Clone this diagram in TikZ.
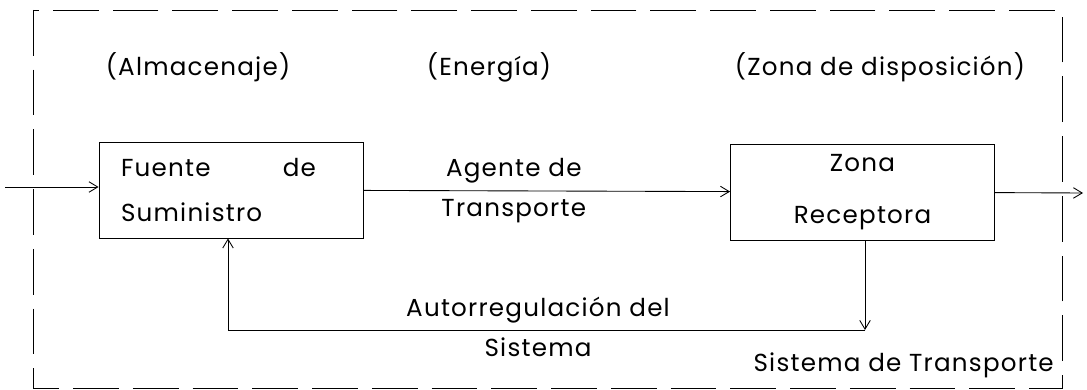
\documentclass[tikz,border=0pt]{standalone}
\usepackage{fontspec}
\setmainfont{Poppins}[LetterSpace=5]
\usetikzlibrary{arrows.meta}

\begin{document}
\begin{tikzpicture}[font=\fontsize{14}{17}\selectfont,line width=0.5pt,
        bloque/.style={draw,inner sep=0,minimum width=5.28cm,minimum height=1.92cm},
        flujo/.style={-{Straight Barb[length=5pt,width=6pt]}},
        marco/.style={dash pattern=on 26pt off 8pt},
        ]
        \useasboundingbox (0,0) rectangle (21.74,-7.8);

        % sistema de transporte
        \draw[marco] (0.66,-0.2) rectangle (21.24,-7.76);

        \node (alm) at (3.96,-1.34) {(Almacenaje)};
        \node (ene) at (9.78,-1.34) {(Energía)};
        \node (zdd) at (17.6,-1.34) {(Zona de disposición)};

        \node[bloque,text width=4.4cm,align=left] (fs) at (4.62,-3.8)
            {Fuente\hspace{\fill}de\hbox to 0.5cm{}\\[0.3cm]Suministro};
        \node[bloque,align=center] (zr) at (17.25,-3.84)
            {Zona\\[0.45cm]Receptora};

        \coordinate (in) at (0.1,-3.74);
        \coordinate (out) at (21.66,-3.86);
        \coordinate (c1) at (17.3,-6.6);
        \coordinate (c2) at (4.56,-6.6);

        \path (in) edge[flujo] (in -| fs.west);
        \path (fs) edge[flujo] node[pos=0.41,align=center] {Agente de\\[0.2cm]Transporte} (zr);
        \path (zr) edge[flujo] (out);
        \path (zr.south -| c1) edge[flujo] (c1);
        \draw[flujo] (c1) -- (c2) -- (fs.south -| c2);

        \node[align=center] (auto) at (10.76,-6.53) {Autorregulación del\\[0.2cm]Sistema};
        \node[anchor=east] (st) at (21.2,-7.3) {Sistema de Transporte};
\end{tikzpicture}
\end{document}
